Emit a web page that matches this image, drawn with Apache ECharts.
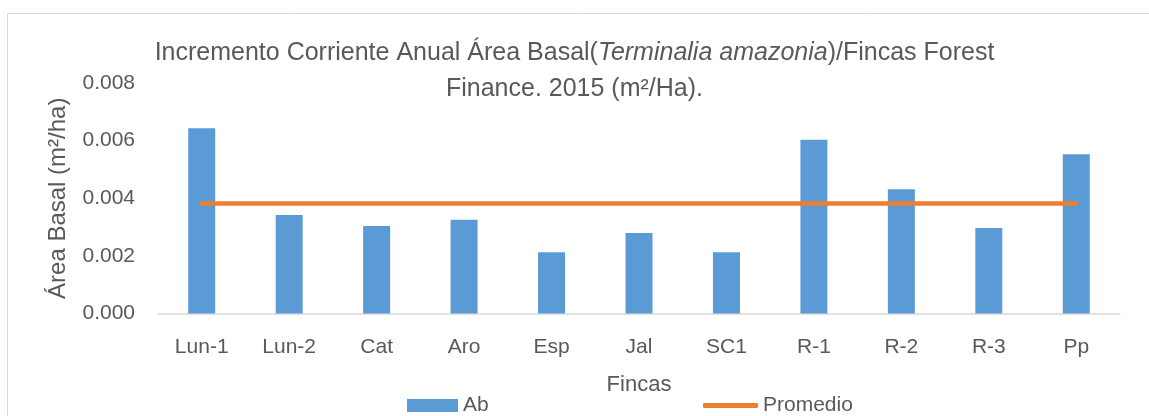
<!DOCTYPE html>
<html>
<head>
<meta charset="utf-8">
<script src="https://cdn.jsdelivr.net/npm/echarts@6/dist/echarts.min.js"></script>
<style>
  html, body { margin: 0; padding: 0; background: #fff; }
  #chart { width: 1149px; height: 416px; }
</style>
</head>
<body>
<div id="chart"></div>
<script>
// datos
var fincas = ['Lun-1', 'Lun-2', 'Cat', 'Aro', 'Esp', 'Jal', 'SC1', 'R-1', 'R-2', 'R-3', 'Pp'];
var ab = [0.00643, 0.00342, 0.00304, 0.00325, 0.00213, 0.00279, 0.00213, 0.00603, 0.00431, 0.00297, 0.00553];
var promedio = [0.00382, 0.00382, 0.00382, 0.00382, 0.00382, 0.00382, 0.00382, 0.00382, 0.00382, 0.00382, 0.00382];
var yTicks = ['0.000', '0.002', '0.004', '0.006', '0.008'];

var txt = '#595959';
var font = 'Liberation Sans';

var chart = echarts.init(document.getElementById('chart'));

var option = {
  backgroundColor: '#fff',
  animation: false,
  title: {
    left: 'center',
    top: 30,
    padding: [5, 0, 5, 16],
    text: '{n|Incremento Corriente Anual Área Basal(}{i|Terminalia amazonia}{n|)/Fincas Forest}\n{n|Finance. 2015 (m²/Ha).}',
    textStyle: {
      fontWeight: 'normal',
      rich: {
        n: { fontFamily: font, fontSize: 25, fontWeight: 'normal', color: txt, lineHeight: 36 },
        i: { fontFamily: font, fontSize: 25, fontWeight: 'normal', color: txt, fontStyle: 'italic', lineHeight: 36 }
      }
    }
  },
  graphic: [{
    type: 'rect',
    shape: { x: 7.5, y: 13.5, width: 1160, height: 420 },
    style: { fill: 'none', stroke: '#d9d9d9', lineWidth: 1 },
    silent: true
  }],
  legend: [{
    data: [{ name: 'Ab', icon: 'rect' }],
    left: 402,
    top: 390,
    itemWidth: 51,
    itemHeight: 13,
    itemGap: 6,
    textStyle: { fontFamily: font, fontSize: 21, color: txt }
  }, {
    data: [{ name: 'Promedio', icon: 'roundRect' }],
    left: 698,
    top: 390,
    itemWidth: 55,
    itemHeight: 5,
    textStyle: { fontFamily: font, fontSize: 21, color: txt }
  }],
  grid: {
    left: 158,
    right: 29,
    top: 83,
    bottom: 102.5,
    containLabel: false
  },
  xAxis: {
    type: 'category',
    data: fincas,
    name: 'Fincas',
    nameLocation: 'middle',
    nameGap: 60,
    nameTextStyle: { fontFamily: font, fontSize: 22, color: txt },
    axisLine: { lineStyle: { color: '#d9d9d9', width: 1.5 } },
    axisTick: { show: false },
    axisLabel: { fontFamily: font, fontSize: 21, color: txt, margin: 23 }
  },
  yAxis: {
    type: 'value',
    min: 0,
    max: 0.008,
    interval: 0.002,
    name: 'Área Basal (m²/ha)',
    nameLocation: 'middle',
    nameGap: 88,
    nameTextStyle: { fontFamily: font, fontSize: 24, color: txt },
    axisLine: { show: false },
    axisTick: { show: false },
    splitLine: { show: false },
    axisLabel: {
      fontFamily: font, fontSize: 21, color: txt, margin: 23,
      formatter: function (v) { return yTicks[Math.round(v / 0.002)]; }
    }
  },
  series: [{
    name: 'Ab',
    type: 'bar',
    data: ab,
    barWidth: 27,
    itemStyle: { color: '#5b9bd5' }
  }, {
    name: 'Promedio',
    type: 'line',
    data: promedio,
    symbol: 'none',
    lineStyle: { color: '#ed7d31', width: 4.5, cap: 'round' },
    itemStyle: { color: '#ed7d31' }
  }]
};

chart.setOption(option);
</script>
</body>
</html>
